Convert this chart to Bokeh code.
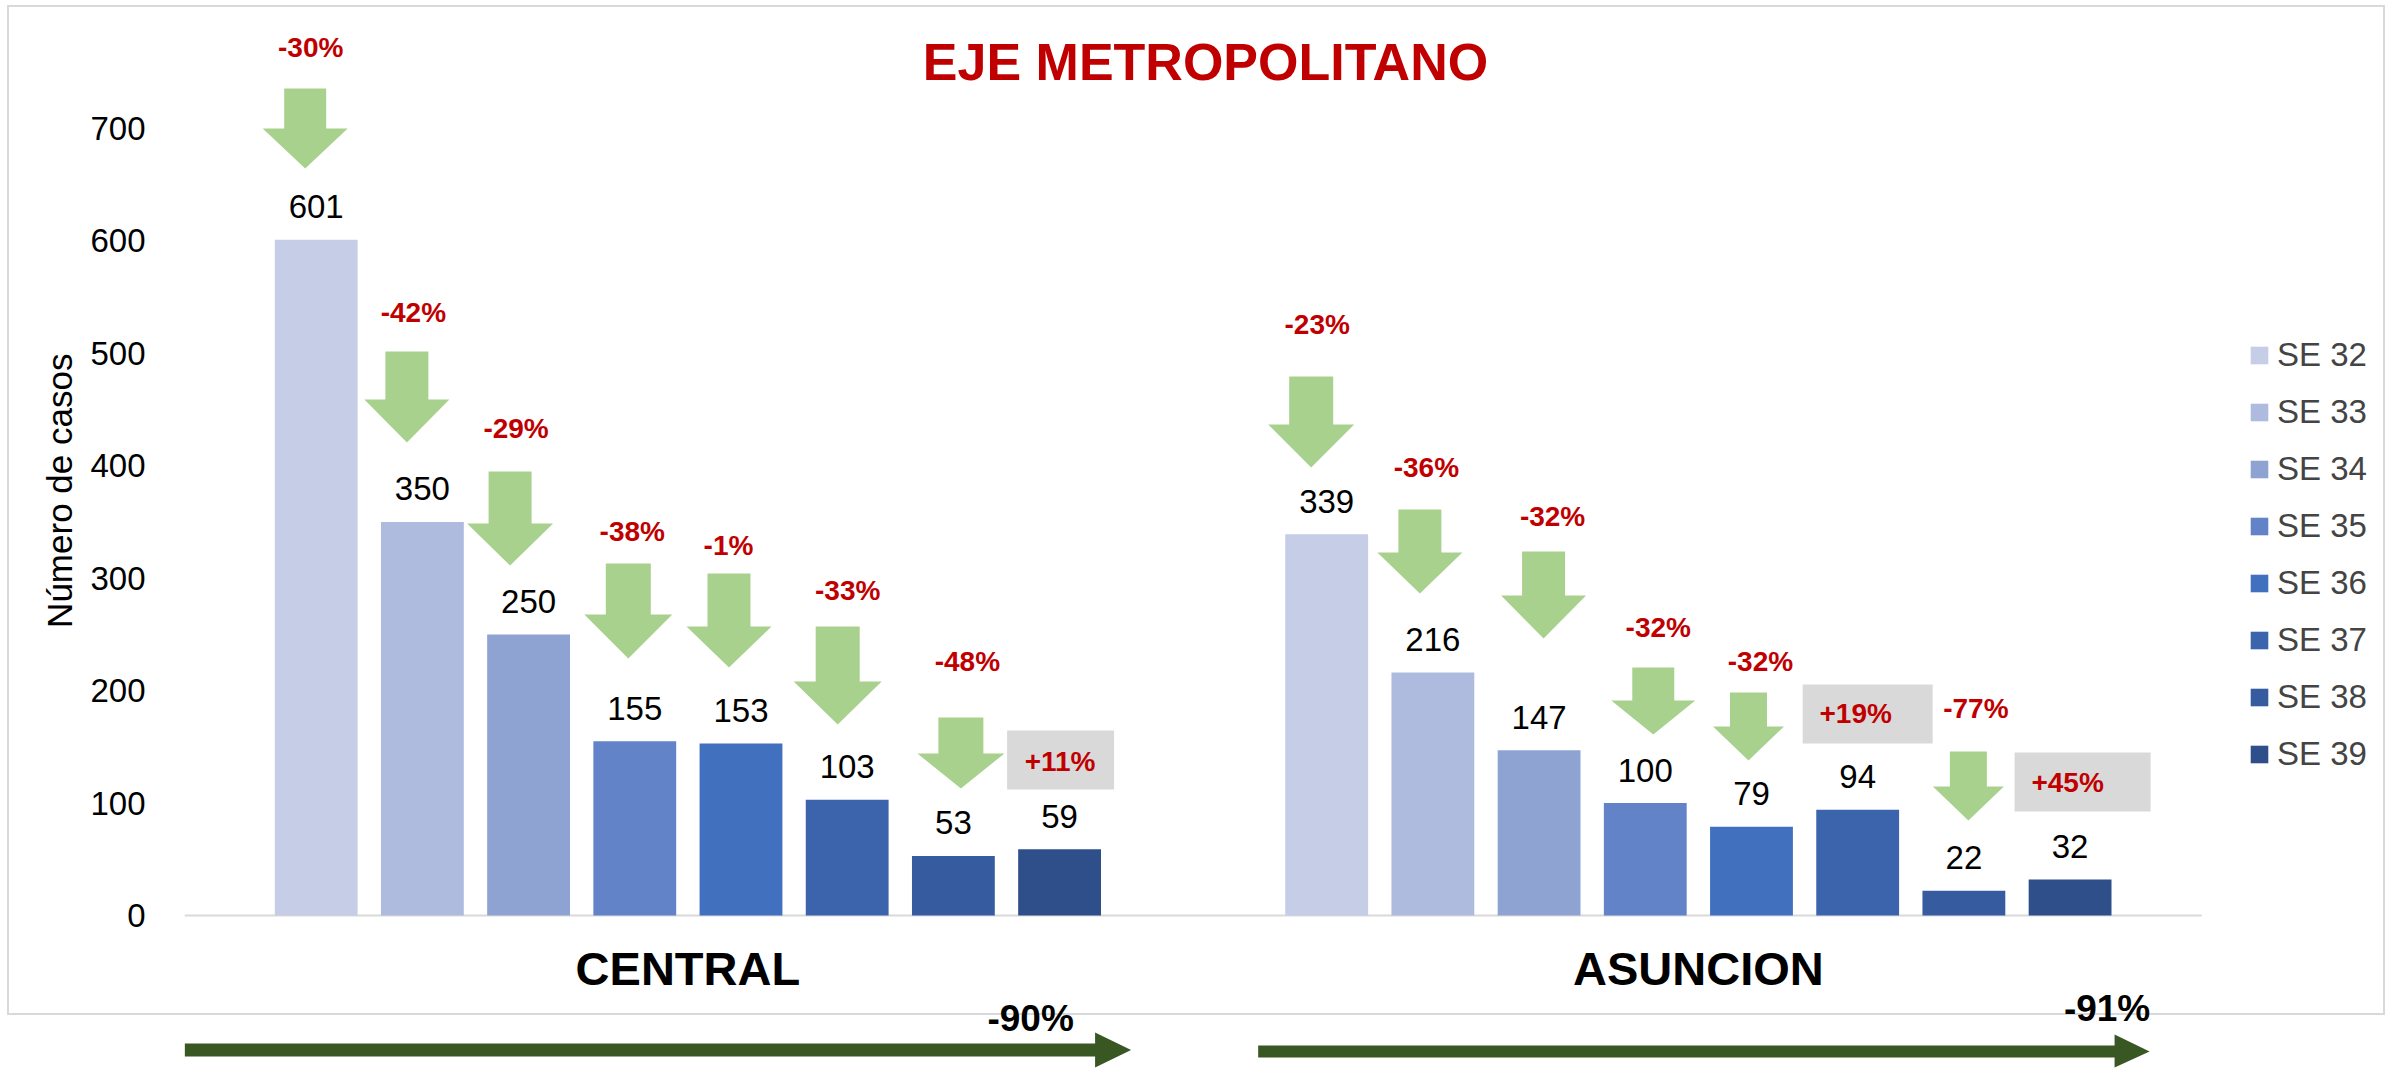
from bokeh.plotting import figure
from bokeh.models import Range1d, Label, Legend, LegendItem, FixedTicker
from bokeh.core.properties import value
from bokeh.embed import file_html
from bokeh.resources import INLINE

# ---------------- data ----------------
groups = ["CENTRAL", "ASUNCION"]
weeks = ["SE 32", "SE 33", "SE 34", "SE 35", "SE 36", "SE 37", "SE 38", "SE 39"]
central = [601, 350, 250, 155, 153, 103, 53, 59]
asuncion = [339, 216, 147, 100, 79, 94, 22, 32]
central_pct = ["-30%", "-42%", "-29%", "-38%", "-1%", "-33%", "-48%", "+11%"]
asuncion_pct = ["-23%", "-36%", "-32%", "-32%", "-32%", "+19%", "-77%", "+45%"]
total_pct = ["-90%", "-91%"]
y_ticks = [0, 100, 200, 300, 400, 500, 600, 700]
title_text = "EJE METROPOLITANO"
y_title = "Número de casos"

# ---------------- styles ----------------
colors = ["#C5CDE7", "#AEBBDE", "#8FA3D3", "#6283C8", "#4170BE", "#3C64AC", "#365C9F", "#2F4F8A"]
RED = "#C00000"
LIGHT_GREEN = "#A9D18E"
DARK_GREEN = "#385723"
GRAY_BOX = "#D9D9D9"
FONT = "Liberation Sans"

W, H = 2392, 1068
LEFT = 184
FRAME_W = W - LEFT
GROUP_GAP = 1.515        # extra space between the two groups (in bar slots)
END_PAD = 0.74           # space before first / after last bar slot
KX = 106.2               # px per bar slot
KY = 1.1245              # px per case
BASE = 915               # baseline row, px from top
X0 = -0.5 - END_PAD
X1 = X0 + FRAME_W / KX
Y0, Y1 = -(H - BASE) / KY, BASE / KY

# bar slot positions (group index * (8 + gap) + week index)
pos = {gr: [k * (len(weeks) + GROUP_GAP) + i for i in range(len(weeks))]
       for k, gr in enumerate(groups)}
vals = {"CENTRAL": central, "ASUNCION": asuncion}
pcts = {"CENTRAL": central_pct, "ASUNCION": asuncion_pct}

p = figure(width=W, height=H, x_range=Range1d(X0, X1), y_range=Range1d(Y0, Y1),
           output_backend="svg", toolbar_location=None, x_axis_location=None,
           min_border_left=LEFT, min_border_right=0, min_border_top=0,
           min_border_bottom=0)
p.outline_line_color = None
p.grid.visible = False
p.background_fill_color = None
p.border_fill_color = None

# chart-area border (light gray rectangle) as the figure's CSS background
g = "linear-gradient(#D9D9D9,#D9D9D9)"
p.styles = {
    "background-color": "white",
    "background-image": ", ".join([g] * 4),
    "background-position": "7px 5px, 7px 1013px, 7px 5px, 2383px 5px",
    "background-size": "2378px 2px, 2378px 2px, 2px 1010px, 2px 1010px",
    "background-repeat": "no-repeat",
}

# y axis
ya = p.yaxis[0]
ya.ticker = FixedTicker(ticks=y_ticks)
ya.axis_line_color = None
ya.major_tick_line_color = None
ya.minor_tick_line_color = None
ya.major_label_text_font = FONT
ya.major_label_text_font_size = "33px"
ya.major_label_text_color = "black"
ya.major_label_standoff = 33
ya.axis_label = "\u00a0" * 9 + y_title
ya.axis_label_text_font = FONT
ya.axis_label_text_font_size = "35px"
ya.axis_label_text_font_style = "normal"
ya.axis_label_text_color = "black"
ya.axis_label_standoff = 8

# baseline (category axis line)
p.segment(x0=[X0], x1=[pos["ASUNCION"][-1] + 0.5 + END_PAD], y0=[0], y1=[0],
          line_color="#D9D9D9", line_width=2)

# bars
items = []
for i, wk in enumerate(weeks):
    r = p.vbar(x=[pos[gr][i] for gr in groups], top=[vals[gr][i] for gr in groups],
               width=0.78, fill_color=colors[i], line_color=None)
    items.append(LegendItem(label=wk, renderers=[r]))

legend = Legend(items=items, location=(2064, 295), padding=0, margin=0, spacing=19,
                glyph_width=22, glyph_height=22, label_standoff=7,
                label_text_font=FONT, label_text_font_size="33px",
                border_line_color=None, background_fill_alpha=0)
p.add_layout(legend, "center")

# value labels
p.text(x=pos["CENTRAL"] + pos["ASUNCION"], y=central + asuncion,
       text=[str(v) for v in central + asuncion], text_font=value(FONT),
       text_font_size="33px", text_align="center", text_baseline="middle",
       y_offset=-33, text_color="black")

# ---------------- annotation layout (px) ----------------
def xo(gr, i, dx_px):
    return pos[gr][i] + dx_px / KX

def yv(px):
    return px / KY

# down arrows: (dx, top, neck, tip, shaft half width, head half width); heights in px above baseline
arrows = {
    "CENTRAL": [(-11, 827, 787, 747, 21, 42.5), (-15.5, 564, 516, 473, 21.5, 42.5),
                (-18.5, 444, 392, 350, 21.5, 43), (-6.5, 352, 301, 257, 22.5, 44),
                (-12, 342, 289, 248, 21.5, 42.5), (-9.5, 289, 234, 191, 22, 44),
                (7.5, 198, 162, 127, 22.5, 43.5), None],
    "ASUNCION": [(-15.5, 539, 491, 448, 22, 43), (-13, 406, 363, 322, 21.5, 42.5),
                 (4.5, 364, 320, 277, 21.5, 42.5), (8, 248, 215, 181, 21, 42),
                 (-3, 223, 189, 155, 18.5, 35.5), None,
                 (4.5, 164, 129, 95, 18.5, 35.5), None],
}
# percent label positions (dx, height) and gray boxes (dx, height, w, h)
pct_pos = {
    "CENTRAL": [(-5.5, 868), (-9, 603), (-12.5, 487), (-2.5, 384), (-12.5, 370),
                (0.5, 325), (14, 254), (0.5, 154)],
    "ASUNCION": [(-9.5, 591), (-6.5, 448), (13.5, 399), (13, 288), (9, 254),
                 (-2, 202), (12, 207), (-2.5, 133)],
}
boxes = {
    "CENTRAL": {7: (1, 155.5, 107, 59)},
    "ASUNCION": {5: (10, 201.5, 130, 59), 7: (12.5, 133.5, 136, 59)},
}

for gr in groups:
    for i in range(len(weeks)):
        a = arrows[gr][i]
        if a is not None:
            dx, top, neck, tip, sw, hw = a
            xs = [xo(gr, i, dx - sw), xo(gr, i, dx + sw), xo(gr, i, dx + sw),
                  xo(gr, i, dx + hw), xo(gr, i, dx), xo(gr, i, dx - hw), xo(gr, i, dx - sw)]
            ys = [yv(top), yv(top), yv(neck), yv(neck), yv(tip), yv(neck), yv(neck)]
            p.patch(x=xs, y=ys, fill_color=LIGHT_GREEN, line_color=None)
        if i in boxes[gr]:
            bdx, bh, bw, bhh = boxes[gr][i]
            p.rect(x=[xo(gr, i, bdx)], y=[yv(bh)], width=bw / KX, height=bhh / KY,
                   fill_color=GRAY_BOX, line_color=None)

tx, ty, tt = [], [], []
for gr in groups:
    for i in range(len(weeks)):
        dx, h = pct_pos[gr][i]
        tx.append(xo(gr, i, dx)); ty.append(yv(h)); tt.append(pcts[gr][i])
p.text(x=tx, y=ty, text=tt, text_font=value(FONT), text_font_style="bold",
       text_font_size="28px", text_color=RED, text_align="center", text_baseline="middle")

# group labels, centred under each group
p.text(x=[sum(pos[gr]) / len(weeks) for gr in groups], y=[yv(-53)] * 2, text=groups,
       text_font=value(FONT), text_font_style="bold", text_font_size="47px",
       text_color="black", text_align="center", text_baseline="middle")

# bottom trend arrows: (start dx from first bar, neck dx from last bar, tip dx from last bar,
#                       shaft top, shaft bottom, head top, head bottom, mid) in px
trend = {
    "CENTRAL": (-131.5, 35.5, 71.5, -128, -141, -117, -152, -134.5),
    "ASUNCION": (-68.5, 44.5, 79.5, -130, -142, -119, -152, -136),
}
for gr in groups:
    s, n, t, st, sb, ht, hb, m = trend[gr]
    xs = [xo(gr, 0, s), xo(gr, 7, n), xo(gr, 7, n), xo(gr, 7, t),
          xo(gr, 7, n), xo(gr, 7, n), xo(gr, 0, s)]
    ys = [yv(st), yv(st), yv(ht), yv(m), yv(hb), yv(sb), yv(sb)]
    p.patch(x=xs, y=ys, fill_color=DARK_GREEN, line_color=None)

trend_lbl = {"CENTRAL": (-29, -102.5), "ASUNCION": (37, -92.5)}
p.text(x=[xo(gr, 7, trend_lbl[gr][0]) for gr in groups],
       y=[yv(trend_lbl[gr][1]) for gr in groups], text=total_pct,
       text_font=value(FONT), text_font_style="bold", text_font_size="37px",
       text_color="black", text_align="center", text_baseline="middle")

# title
p.add_layout(Label(x=1205 - LEFT, y=H - 61, x_units="screen", y_units="screen", text=title_text,
                   text_font=FONT, text_font_style="bold", text_font_size="52px",
                   text_color=RED, text_align="center", text_baseline="middle"))

open("out.html", "w").write(file_html(p, INLINE))
